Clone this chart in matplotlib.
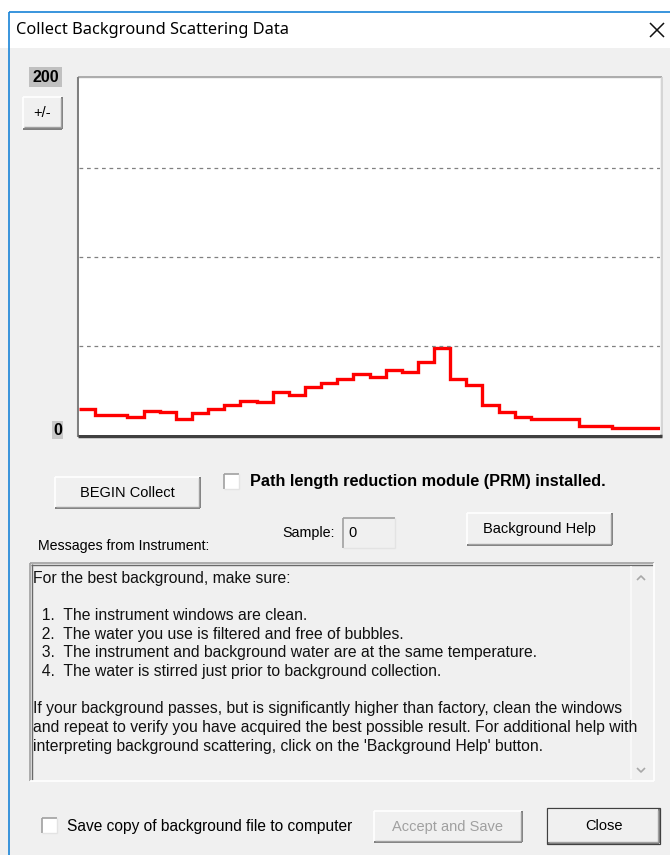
import matplotlib
matplotlib.use("Agg")
import matplotlib.pyplot as plt
from matplotlib.patches import Rectangle
import numpy as np

# background scattering counts per ring
scatter_values = [14.6, 11.2, 11.2, 10.1, 13.5, 12.9, 9.0, 12.4, 14.6, 16.9,
                  19.1, 18.5, 24.2, 22.5, 27.0, 29.2, 31.5, 34.3, 32.6, 36.5,
                  35.4, 41.0, 48.9, 31.5, 28.1, 16.9, 12.9, 10.1, 9.0, 9.0,
                  9.0, 5.1, 5.1, 3.9, 3.9, 3.9]
y_max = 200
grid_levels = [50, 100, 150]

title = "Collect Background Scattering Data"
message_lines = [
    "For the best background, make sure:",
    "",
    "  1.  The instrument windows are clean.",
    "  2.  The water you use is filtered and free of bubbles.",
    "  3.  The instrument and background water are at the same temperature.",
    "  4.  The water is stirred just prior to background collection.",
    "",
    "If your background passes, but is significantly higher than factory, clean the windows",
    "and repeat to verify you have acquired the best possible result. For additional help with",
    "interpreting background scattering, click on the 'Background Help' button.",
]

W, H = 670, 855
BG = "#f0f0f0"
FONT = "Liberation Sans"

fig = plt.figure(figsize=(W / 100, H / 100), dpi=100)
fig.patch.set_facecolor(BG)

# overlay axes in pixel coordinates for the dialog chrome
ui = fig.add_axes([0, 0, 1, 1])
ui.set_xlim(0, W)
ui.set_ylim(H, 0)
ui.axis("off")


def rect(x0, y0, x1, y1, fc, ec="none", lw=1, z=1):
    ui.add_patch(Rectangle((x0, y0), x1 - x0, y1 - y0, facecolor=fc,
                           edgecolor=ec, linewidth=lw, zorder=z))


def line(xs, ys, c, lw=1, z=3):
    ui.plot(xs, ys, color=c, linewidth=lw, solid_capstyle="butt", zorder=z)


def button(x0, y0, x1, y1, label, color="black", default=False):
    rect(x0, y0, x1, y1, "#f0f0f0", z=2)
    line([x0, x1], [y0, y0], "white", 1.2)
    line([x0, x0], [y0, y1], "white", 1.2)
    line([x0, x1], [y1, y1], "#696969", 1.2)
    line([x1, x1], [y0, y1], "#696969", 1.2)
    line([x0 + 1, x1 - 1], [y1 - 1.5, y1 - 1.5], "#a0a0a0", 1)
    line([x1 - 1.5, x1 - 1.5], [y0 + 1, y1 - 1], "#a0a0a0", 1)
    if default:
        rect(x0 - 1, y0 - 1, x1 + 1, y1 + 1, "none", ec="#404040", lw=0.9, z=4)
    ui.text((x0 + x1) / 2, (y0 + y1) / 2, label, ha="center", va="center",
            fontsize=10.5, family=FONT, color=color, zorder=5)


def checkbox(x0, y0, size=15):
    rect(x0, y0, x0 + size, y0 + size, "white", z=2)
    line([x0, x0 + size], [y0, y0], "#a0a0a0", 1.2)
    line([x0, x0], [y0, y0 + size], "#a0a0a0", 1.2)
    line([x0, x0 + size], [y0 + size, y0 + size], "#e3e3e3", 1)
    line([x0 + size, x0 + size], [y0, y0 + size], "#e3e3e3", 1)


# window frame and title bar
rect(0, 0, W, 48, "white", z=0)
line([9, 9], [12, H], "#1883d7", 1.2)
line([9, W], [12, 12], "#1883d7", 1.2)
ui.text(16, 30, title, ha="left", va="center", fontsize=11.8, family="Noto Sans")
line([650, 664], [23, 37], "#111111", 1.1)
line([650, 664], [37, 23], "#111111", 1.1)

# y scale labels and +/- button
rect(29, 67, 62, 87, "#c0c0c0")
ui.text(45.5, 77, str(y_max), ha="center", va="center", fontsize=11.5,
        fontweight="bold", family=FONT)
button(23, 97, 62, 129, "+/-")
rect(52, 421, 63, 439, "#c8c8c8")
ui.text(57.5, 430, "0", ha="center", va="center", fontsize=11.5,
        fontweight="bold", family=FONT)

# chart
x0p, x1p, y0p, y1p = 79, 660, 79, 435
ax = fig.add_axes([x0p / W, 1 - y1p / H, (x1p - x0p) / W, (y1p - y0p) / H])
edges = np.arange(len(scatter_values) + 1)
ax.stairs(scatter_values, edges, color="#ff0000", linewidth=2.4, baseline=None)
for g in grid_levels:
    ax.axhline(g, color="#808080", linewidth=0.9, linestyle=(0, (3, 3)))
ax.set_xlim(0, len(scatter_values))
ax.set_ylim(0, y_max)
ax.set_xticks([])
ax.set_yticks([])
ax.set_facecolor("white")
for s in ax.spines.values():
    s.set_visible(False)
line([78, 662], [77, 77], "#a0a0a0", 1.2, z=6)
line([662, 662], [77, 437], "#d0d0d0", 1.2, z=6)
line([78, 78], [77, 437], "#808080", 1.5, z=6)
line([78, 662], [436, 436], "#404040", 2.5, z=6)

# controls under the chart
button(55, 477, 200, 508, "BEGIN Collect")
checkbox(224, 474)
ui.text(250, 481, "Path length reduction module (PRM) installed.", ha="left",
        va="center", fontsize=11.7, fontweight="bold", family=FONT)
ui.text(282, 533, "Sample:", ha="left", va="center", fontsize=10.3, family=FONT)
rect(343, 518, 395, 548, "#f0f0f0", z=2)
line([343, 395], [518, 518], "#a0a0a0", 1.2)
line([343, 343], [518, 548], "#a0a0a0", 1.2)
line([343, 395], [548, 548], "#e3e3e3", 1)
line([395, 395], [518, 548], "#e3e3e3", 1)
ui.text(348, 533, "0", ha="left", va="center", fontsize=10.5, family=FONT)
button(467, 513, 612, 545, "Background Help")
ui.text(38, 546, "Messages from Instrument:", ha="left", va="center",
        fontsize=10.2, family=FONT)

# message box
rect(30, 563, 654, 781, "#f0f0f0", z=1)
line([30, 654], [563, 563], "#a0a0a0", 1.2)
line([30, 30], [563, 781], "#a0a0a0", 1.2)
line([31, 653], [564.5, 564.5], "#696969", 1)
line([31.5, 31.5], [564, 780], "#696969", 1)
line([30, 654], [781, 781], "white", 1.2)
line([654, 654], [563, 781], "white", 1.2)
line([631, 631], [566, 779], "#fafafa", 1.2)
line([637, 641, 645], [580, 576, 580], "#a8a8a8", 1.2)
line([637, 641, 645], [768, 772, 768], "#a8a8a8", 1.2)
for i, txt in enumerate(message_lines):
    ui.text(33, 578 + i * 18.7, txt, ha="left", va="center", fontsize=11.3,
            family=FONT, color="#111111")

# bottom row
checkbox(42, 818)
ui.text(67, 826, "Save copy of background file to computer", ha="left",
        va="center", fontsize=11.2, family=FONT)
button(374, 811, 522, 842, "Accept and Save", color="#a0a0a0")
button(548, 809, 659, 843, "Close", default=True)

fig.savefig("out.png", dpi=100, facecolor=BG)
